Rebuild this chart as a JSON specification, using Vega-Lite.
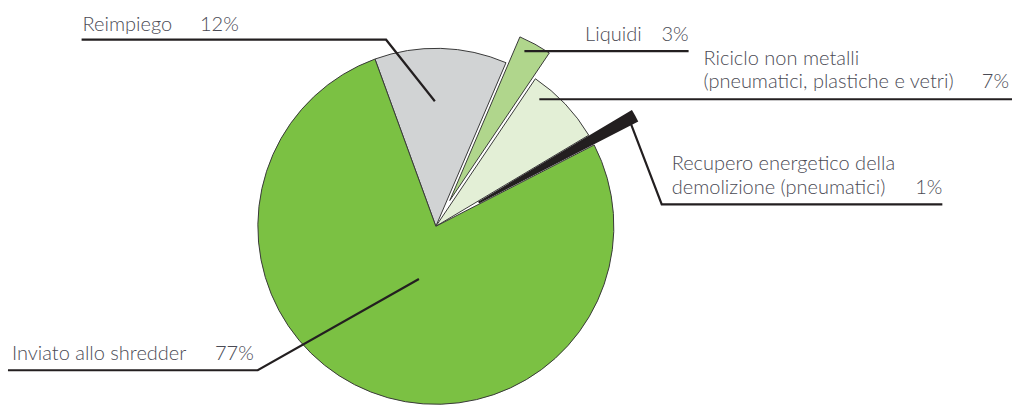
{
  "$schema": "https://vega.github.io/schema/vega-lite/v6.json",
  "width": 1017,
  "height": 405,
  "autosize": {"type": "fit", "contains": "padding"},
  "padding": 0,
  "background": "white",
  "config": {"view": {"stroke": null}},
  "datasets": {
    "slices": [
      {"name": "Reimpiego", "value": 12},
      {"name": "Liquidi", "value": 3},
      {"name": "Riciclo non metalli", "value": 7},
      {"name": "Recupero energetico", "value": 1},
      {"name": "Inviato allo shredder", "value": 77}
    ],
    "leaders": [
      {"id": "Reimpiego", "seq": 1, "x": 82, "y": 40},
      {"id": "Reimpiego", "seq": 2, "x": 388, "y": 40},
      {"id": "Reimpiego", "seq": 3, "x": 437, "y": 102},
      {"id": "Liquidi", "seq": 1, "x": 527, "y": 51.5},
      {"id": "Liquidi", "seq": 2, "x": 692, "y": 51.5},
      {"id": "Riciclo", "seq": 1, "x": 542, "y": 100},
      {"id": "Riciclo", "seq": 2, "x": 1017, "y": 100},
      {"id": "Recupero", "seq": 1, "x": 633, "y": 122},
      {"id": "Recupero", "seq": 2, "x": 665, "y": 206},
      {"id": "Recupero", "seq": 3, "x": 947, "y": 206},
      {"id": "Inviato", "seq": 1, "x": 8, "y": 373},
      {"id": "Inviato", "seq": 2, "x": 259, "y": 373},
      {"id": "Inviato", "seq": 3, "x": 421, "y": 281}
    ],
    "labels": [
      {"label": "Reimpiego", "pct": "12%", "lx": 83, "ly": 31, "px": 240, "py": 31},
      {"label": "Liquidi", "pct": "3%", "lx": 588, "ly": 41, "px": 692, "py": 41},
      {"label": "Riciclo non metalli\n(pneumatici, plastiche e vetri)", "pct": "7%", "lx": 707, "ly": 65, "px": 1014, "py": 88.5},
      {"label": "Recupero energetico della\ndemolizione (pneumatici)", "pct": "1%", "lx": 675, "ly": 171.5, "px": 947, "py": 195},
      {"label": "Inviato allo shredder", "pct": "77%", "lx": 12, "ly": 363, "px": 255, "py": 363}
    ]
  },
  "layer": [
    {
      "data": {"name": "slices"},
      "transform": [
        {"stack": "value", "groupby": [], "as": ["start", "end"]}
      ],
      "encoding": {
        "theta": {"field": "start", "type": "quantitative", "scale": {"domain": [0, 100], "range": [-0.349, 5.934]}},
        "theta2": {"field": "end"},
        "color": {
          "field": "name",
          "type": "nominal",
          "legend": null,
          "scale": {
            "domain": ["Reimpiego", "Liquidi", "Riciclo non metalli", "Recupero energetico", "Inviato allo shredder"],
            "range": ["#d1d3d4", "#b0d68c", "#e3efd6", "#231f20", "#7bc143"]
          }
        }
      },
      "layer": [
        {
          "transform": [{"filter": "datum.name !== 'Liquidi' && datum.name !== 'Recupero energetico'"}],
          "mark": {"type": "arc", "outerRadius": 178, "stroke": "#3a3a3a", "strokeWidth": 1},
          "encoding": {
            "x": {"datum": 438, "type": "quantitative", "scale": {"domain": [0, 1017], "nice": false, "zero": false}, "axis": null},
            "y": {"datum": 228, "type": "quantitative", "scale": {"domain": [0, 405], "nice": false, "zero": false, "reverse": true}, "axis": null}
          }
        },
        {
          "transform": [{"filter": "datum.name === 'Liquidi'"}],
          "mark": {"type": "arc", "outerRadius": 178, "stroke": "#3a3a3a", "strokeWidth": 1},
          "encoding": {
            "x": {"datum": 452, "type": "quantitative"},
            "y": {"datum": 202, "type": "quantitative"}
          }
        },
        {
          "transform": [{"filter": "datum.name === 'Recupero energetico'"}],
          "mark": {"type": "arc", "outerRadius": 178, "stroke": "#231f20", "strokeWidth": 2, "strokeJoin": "miter"},
          "encoding": {
            "x": {"datum": 481, "type": "quantitative"},
            "y": {"datum": 204, "type": "quantitative"}
          }
        }
      ]
    },
    {
      "data": {"name": "leaders"},
      "mark": {"type": "line", "color": "#231f20", "strokeWidth": 2.2, "strokeJoin": "miter"},
      "encoding": {
        "x": {"field": "x", "type": "quantitative"},
        "y": {"field": "y", "type": "quantitative"},
        "detail": {"field": "id"},
        "order": {"field": "seq"}
      }
    },
    {
      "data": {"name": "labels"},
      "layer": [
        {
          "mark": {"type": "text", "align": "left", "baseline": "alphabetic", "font": "Lato", "fontWeight": 300, "fontSize": 20, "color": "#4b4b55", "lineBreak": "\n", "lineHeight": 23.5},
          "encoding": {
            "x": {"field": "lx", "type": "quantitative"},
            "y": {"field": "ly", "type": "quantitative"},
            "text": {"field": "label"}
          }
        },
        {
          "mark": {"type": "text", "align": "right", "baseline": "alphabetic", "font": "Lato", "fontWeight": 300, "fontSize": 20, "color": "#4b4b55"},
          "encoding": {
            "x": {"field": "px", "type": "quantitative"},
            "y": {"field": "py", "type": "quantitative"},
            "text": {"field": "pct"}
          }
        }
      ]
    }
  ]
}
